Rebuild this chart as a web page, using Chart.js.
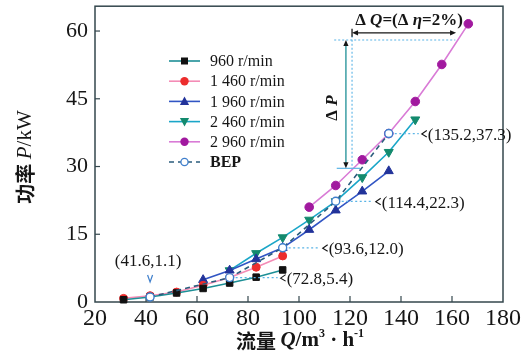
<!DOCTYPE html>
<html><head><meta charset="utf-8">
<script src="https://cdn.jsdelivr.net/npm/chart.js@4/dist/chart.umd.min.js"></script>
<style>html,body{margin:0;padding:0;background:#fff}#wrap{width:524px;height:360px;position:relative}</style>
</head><body><div id="wrap"><canvas id="c"></canvas></div>
<script>
// ---------------- data ----------------
const xTicks = [20, 40, 60, 80, 100, 120, 140, 160, 180];
const yTicks = [0, 15, 30, 45, 60];

const q960  = [31.2, 41.6, 52.0, 62.4, 72.8, 83.2, 93.6];
const p960  = [0.5, 1.1, 2.0, 3.0, 4.2, 5.5, 7.1];
const q1460 = [31.2, 41.6, 52.0, 62.4, 72.8, 83.2, 93.6];
const p1460 = [0.8, 1.4, 2.2, 3.7, 5.4, 7.7, 10.2];
const q1960 = [62.4, 72.8, 83.2, 93.6, 104.0, 114.4, 124.8, 135.2];
const p1960 = [4.9, 7.0, 9.5, 12.0, 16.0, 20.3, 24.5, 29.0];
const q2460 = [72.8, 83.2, 93.6, 104.0, 114.4, 124.8, 135.2, 145.6];
const p2460 = [7.0, 10.8, 14.3, 18.2, 22.3, 27.6, 33.2, 40.4];
const q2960 = [104.0, 114.4, 124.8, 135.2, 145.6, 156.0, 166.4];
const p2960 = [21.0, 25.8, 31.5, 37.3, 44.4, 52.6, 61.6];
const qBep  = [41.6, 72.8, 93.6, 114.4, 135.2];
const pBep  = [1.1, 5.4, 12.0, 22.3, 37.3];
const bepLabels = ['(41.6,1.1)', '(72.8,5.4)', '(93.6,12.0)', '(114.4,22.3)', '(135.2,37.3)'];
const seriesNames = ['960 r/min', '1 460 r/min', '1 960 r/min', '2 460 r/min', '2 960 r/min', 'BEP'];

// ---------------- styles ----------------
const SERIF = '"Liberation Serif","DejaVu Serif",serif';
const CJK = '"Noto Sans CJK SC","Noto Sans CJK JP",sans-serif';
const frameColor = '#34474d';
const styles = [
  {line:'#1d8f96', pt:'#111111', shape:'rect', r:4.6},
  {line:'#f48cb6', pt:'#ec2d2d', shape:'circle', r:4},
  {line:'#3155c4', pt:'#22339a', shape:'triangle', r:5.2},
  {line:'#1aa6c8', pt:'#138a6e', shape:'triangleDown', r:5.2},
  {line:'#d97bd6', pt:'#a1199f', shape:'circle', r:4.3},
  {line:'#2a5c7c', pt:'#3f7fcc', shape:'open', r:4}
];

function pts(qs, ps){ return qs.map((q,i)=>({x:q, y:ps[i]})); }
function ds(idx, qs, ps){
  const s = styles[idx];
  const shape = s.shape === 'triangleDown' ? 'triangle' : (s.shape === 'open' ? 'circle' : s.shape);
  return {
    label: seriesNames[idx], data: pts(qs, ps),
    borderColor: s.line, borderWidth: 1.6, tension: 0,
    pointStyle: shape, pointRotation: s.shape === 'triangleDown' ? 180 : 0,
    pointRadius: s.r, pointHoverRadius: s.r,
    pointBackgroundColor: s.shape === 'open' ? '#ffffff' : s.pt,
    pointBorderColor: s.pt, pointBorderWidth: s.shape === 'open' ? 1.4 : 1,
    borderDash: s.shape === 'open' ? [5,4] : [],
    clip: 8, order: s.shape === 'open' ? -1 : 0
  };
}

function drawRich(ctx, segs, x, y, align){
  let w = 0;
  segs.forEach(s=>{ ctx.font = s.f; w += ctx.measureText(s.t).width; });
  let cx = align === 'center' ? x - w/2 : (align === 'right' ? x - w : x);
  ctx.textBaseline = 'middle'; ctx.textAlign = 'left';
  segs.forEach(s=>{ ctx.font = s.f; ctx.fillText(s.t, cx, y + (s.dy||0)); cx += ctx.measureText(s.t).width; });
}
function marker(ctx, shape, x, y, fill, stroke, r){
  ctx.save(); ctx.fillStyle = fill; ctx.strokeStyle = stroke; ctx.lineWidth = 1.3; ctx.setLineDash([]);
  ctx.beginPath();
  if (shape === 'rect'){ ctx.rect(x-3.5, y-3.5, 7, 7); ctx.fill(); }
  else if (shape === 'circle'){ ctx.arc(x, y, r, 0, Math.PI*2); ctx.fill(); }
  else if (shape === 'open'){ ctx.arc(x, y, r, 0, Math.PI*2); ctx.fillStyle='#fff'; ctx.fill(); ctx.stroke(); }
  else if (shape === 'triangle'){ ctx.moveTo(x, y-5); ctx.lineTo(x-4.6, y+3.5); ctx.lineTo(x+4.6, y+3.5); ctx.closePath(); ctx.fill(); }
  else if (shape === 'triangleDown'){ ctx.moveTo(x, y+5); ctx.lineTo(x-4.6, y-3.5); ctx.lineTo(x+4.6, y-3.5); ctx.closePath(); ctx.fill(); }
  ctx.restore();
}
function arrowHead(ctx, x, y, dir){
  ctx.beginPath();
  const a = 6, b = 2.6;
  if (dir==='up'){ ctx.moveTo(x,y); ctx.lineTo(x-b,y+a); ctx.lineTo(x+b,y+a); }
  if (dir==='down'){ ctx.moveTo(x,y); ctx.lineTo(x-b,y-a); ctx.lineTo(x+b,y-a); }
  if (dir==='left'){ ctx.moveTo(x,y); ctx.lineTo(x+a,y-b); ctx.lineTo(x+a,y+b); }
  if (dir==='right'){ ctx.moveTo(x,y); ctx.lineTo(x-a,y-b); ctx.lineTo(x-a,y+b); }
  ctx.closePath(); ctx.fill();
}

const framePlugin = {
  id: 'frame',
  beforeDatasetsDraw(chart){
    const {ctx, chartArea:a, scales:{x, y}} = chart;
    ctx.save();
    ctx.strokeStyle = frameColor; ctx.lineWidth = 1.5;
    ctx.strokeRect(a.left, a.top, a.right - a.left, a.bottom - a.top);
    ctx.lineWidth = 1.2;
    xTicks.forEach(v=>{ if (v>xTicks[0] && v<xTicks[xTicks.length-1]){ const px = x.getPixelForValue(v); ctx.beginPath(); ctx.moveTo(px, a.bottom); ctx.lineTo(px, a.bottom-6); ctx.stroke(); }});
    yTicks.forEach(v=>{ if (v>0){ const py = y.getPixelForValue(v); ctx.beginPath(); ctx.moveTo(a.left, py); ctx.lineTo(a.left+5, py); ctx.stroke(); }});
    ctx.restore();
  },
  afterDraw(chart){
    const {ctx, scales:{x, y}} = chart;
    ctx.save();
    ctx.fillStyle = '#161616';
    drawRich(ctx, [
      {t:'流量 ', f:'bold 20px '+CJK},
      {t:'Q', f:'italic bold 21px '+SERIF},
      {t:'/m', f:'bold 21px '+SERIF},
      {t:'3', f:'bold 12px '+SERIF, dy:-7},
      {t:' · h', f:'bold 21px '+SERIF},
      {t:'-1', f:'bold 12px '+SERIF, dy:-7}
    ], 300, 341, 'center');
    ctx.save(); ctx.translate(25, 157); ctx.rotate(-Math.PI/2);
    drawRich(ctx, [
      {t:'功率 ', f:'bold 20px '+CJK},
      {t:'P', f:'italic 21px '+SERIF},
      {t:'/kW', f:'21px '+SERIF}
    ], 0, 0, 'center');
    ctx.restore();

    // legend
    const lx0 = 169, lx1 = 200, ly0 = 61, dy = 20.2;
    seriesNames.forEach((name, i)=>{
      const s = styles[i], yy = ly0 + i*dy;
      ctx.save(); ctx.strokeStyle = s.line; ctx.lineWidth = 1.6;
      if (s.shape === 'open'){ ctx.setLineDash([5,4]); }
      ctx.beginPath(); ctx.moveTo(lx0, yy); ctx.lineTo(lx1, yy); ctx.stroke(); ctx.restore();
      marker(ctx, s.shape, (lx0+lx1)/2, yy, s.pt, s.pt, s.shape==='open'?3.6:4.2);
      ctx.fillStyle = '#161616';
      ctx.font = (s.shape==='open' ? 'bold ' : '') + '16px ' + SERIF;
      ctx.textAlign = 'left'; ctx.textBaseline = 'middle';
      ctx.fillText(name, 210, yy+1);
    });

    // BEP labels
    ctx.font = '17px ' + SERIF; ctx.fillStyle = '#161616';
    const arrowDx = [0, 52, 41, 41, 34];
    qBep.forEach((q, i)=>{
      const px = x.getPixelForValue(q), py = y.getPixelForValue(pBep[i]);
      if (i === 0){
        ctx.textAlign = 'center'; ctx.textBaseline = 'middle';
        ctx.fillText(bepLabels[i], px - 2, py - 36);
        ctx.save(); ctx.strokeStyle = '#3f7fcc'; ctx.lineWidth = 1.2;
        ctx.beginPath(); ctx.moveTo(px-2.5, py-22); ctx.lineTo(px, py-15); ctx.lineTo(px+2.5, py-22); ctx.stroke(); ctx.restore();
        return;
      }
      const ax = px + arrowDx[i];
      ctx.save(); ctx.strokeStyle = '#5ab4e6'; ctx.lineWidth = 1.2; ctx.setLineDash([2,2.5]);
      ctx.beginPath(); ctx.moveTo(px+6, py); ctx.lineTo(ax-4, py); ctx.stroke(); ctx.restore();
      ctx.save(); ctx.strokeStyle = '#161616'; ctx.lineWidth = 1.1;
      ctx.beginPath(); ctx.moveTo(ax+4, py-3); ctx.lineTo(ax-1, py+0.5); ctx.lineTo(ax+4, py+3.5); ctx.stroke(); ctx.restore();
      ctx.textAlign = 'left'; ctx.textBaseline = 'middle';
      ctx.fillText(bepLabels[i], ax + 5, py + 2);
    });

    // ΔP / ΔQ annotations
    const xA = x.getPixelForValue(118.4), xB = x.getPixelForValue(120.8), xC = x.getPixelForValue(161.6);
    const yTop = y.getPixelForValue(58.0), yBot = y.getPixelForValue(29.6), yQ = y.getPixelForValue(59.6);
    ctx.save();
    ctx.strokeStyle = '#5ab4e6'; ctx.lineWidth = 1.1; ctx.setLineDash([2,2]);
    ctx.beginPath(); ctx.moveTo(x.getPixelForValue(113.8), yTop); ctx.lineTo(x.getPixelForValue(161.3), yTop); ctx.stroke();
    ctx.beginPath(); ctx.moveTo(xB, yQ+3); ctx.lineTo(xB, yBot); ctx.stroke();
    ctx.setLineDash([]); ctx.lineWidth = 1.2;
    ctx.beginPath(); ctx.moveTo(x.getPixelForValue(114.8), yBot); ctx.lineTo(x.getPixelForValue(124.0), yBot); ctx.stroke();
    ctx.strokeStyle = '#1d8f96'; ctx.fillStyle = '#161616'; ctx.lineWidth = 1.3;
    ctx.beginPath(); ctx.moveTo(xA, yTop+5); ctx.lineTo(xA, yBot-5); ctx.stroke();
    arrowHead(ctx, xA, yTop, 'up'); arrowHead(ctx, xA, yBot, 'down');
    ctx.strokeStyle = '#161616';
    ctx.beginPath(); ctx.moveTo(xB+5, yQ); ctx.lineTo(xC-5, yQ); ctx.stroke();
    arrowHead(ctx, xB, yQ, 'left'); arrowHead(ctx, xC, yQ, 'right');
    ctx.beginPath(); ctx.moveTo(xB, yQ-4); ctx.lineTo(xB, yQ+4); ctx.stroke();
    ctx.restore();
    ctx.fillStyle = '#161616';
    drawRich(ctx, [
      {t:'Δ ', f:'bold 17px '+SERIF},
      {t:'Q', f:'italic bold 17px '+SERIF},
      {t:'=(Δ ', f:'bold 17px '+SERIF},
      {t:'η', f:'italic bold 17px '+SERIF},
      {t:'=2%)', f:'bold 17px '+SERIF}
    ], 409, 21, 'center');
    ctx.save(); ctx.translate(333, 108); ctx.rotate(-Math.PI/2);
    drawRich(ctx, [
      {t:'Δ ', f:'bold 17px '+SERIF},
      {t:'P', f:'italic bold 17px '+SERIF}
    ], 0, 0, 'center');
    ctx.restore();
    ctx.restore();
  }
};

new Chart(document.getElementById('c'), {
  type: 'line',
  data: { datasets: [
    ds(0, q960, p960), ds(1, q1460, p1460), ds(2, q1960, p1960),
    ds(3, q2460, p2460), ds(4, q2960, p2960), ds(5, qBep, pBep)
  ]},
  options: {
    responsive: true, maintainAspectRatio: false, animation: false,
    layout: { padding: { left: 0, right: 21, top: 5, bottom: 0 } },
    plugins: { legend: { display: false }, tooltip: { enabled: false } },
    scales: {
      x: {
        type: 'linear', min: 20, max: 180,
        afterBuildTicks: s => { s.ticks = xTicks.map(v=>({value:v})); },
        afterFit: s => { s.height = 58; s.paddingLeft = 0; s.paddingRight = 0; s.paddingTop = 0; s.paddingBottom = 0; },
        grid: { display: false, drawTicks: false }, border: { display: false },
        ticks: { padding: 2, color: '#161616', font: { family: SERIF, size: 24 }, maxRotation: 0, autoSkip: false }
      },
      y: {
        type: 'linear', min: 0, max: 65.5,
        afterBuildTicks: s => { s.ticks = yTicks.map(v=>({value:v})); },
        afterFit: s => { s.width = 95; s.paddingTop = 0; s.paddingBottom = 0; s.paddingLeft = 0; s.paddingRight = 0; },
        grid: { display: false, drawTicks: false }, border: { display: false },
        ticks: { padding: 7, color: '#161616', font: { family: SERIF, size: 22 }, autoSkip: false }
      }
    }
  },
  plugins: [framePlugin]
});
</script></body></html>
